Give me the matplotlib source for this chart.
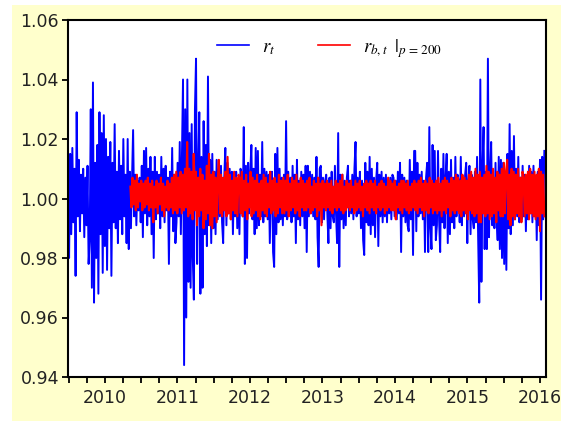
import numpy as np
import matplotlib.pyplot as plt
from matplotlib.patches import Rectangle

# r_t, stored as (value - 1) * 1000
r_t_permil = [
    3, -20, 15, -12, 17, -8, 10, -26, 29, -6, 13, -11, 8, -5, 10, -13, 7, -9, 11, -22,
    -14, 30, -30, 39, -35, 12, -20, 18, -32, 29, -12, 22, -25, 28, -16, 20, -24, 14, -10, 19,
    -26, 12, -8, 25, -10, 9, -15, 16, -7, 11, -12, 20, -6, 8, -15, 20, -17, 9, -10, 7,
    23, -6, 8, -9, 6, -4, 7, -8, 11, -13, 16, -5, 17, -9, 10, -6, 14, -12, 9, -20,
    14, -7, 9, -5, 8, -10, 14, -6, 10, -8, 11, -4, 7, -22, 9, -6, 17, -11, 8, -15,
    -8, 12, -6, 19, -12, 15, 40, -56, 30, -40, 40, -28, 22, -30, 25, -20, -34, 30, 47, -22,
    10, 29, -32, 14, -30, 26, -12, 18, -16, 41, -9, 13, -15, 15, -10, 9, -12, 13, -7, 10,
    -6, 11, -8, -15, 7, 17, -9, 12, -5, 10, -7, 9, -12, 8, -6, 9, -10, 6, -12, 10,
    8, -6, 24, -22, 11, -20, 12, -5, 9, 18, -7, 10, -12, 17, -10, 16, -9, 8, -6, 19,
    -8, 10, -6, 9, -7, 8, -15, 6, 9, -18, -23, 15, -12, 17, -8, 10, -7, 7, -9, 8,
    -6, 26, -7, 9, -5, 7, -8, 11, -6, 8, -15, 13, -7, 6, -9, 9, -6, 8, -10, 11,
    -18, 11, -6, 9, -5, 8, -6, 7, -7, 14, -13, -23, 10, 11, -8, 7, -7, 6, 8, -5,
    -15, 7, -10, 9, -6, -8, 11, -5, -15, 22, -23, 8, -7, 8, -10, 6, -9, 7, 11, -6,
    6, -5, 8, -7, 10, 19, -6, 7, -5, 9, -10, 6, -14, -19, 12, -8, 9, -9, 14, -12,
    10, -9, 7, -13, 6, 12, -16, 8, -6, 9, -8, 7, -6, 8, -8, 6, -5, 7, -7, 8,
    7, -6, 6, -7, 9, -5, 12, -18, 8, -6, 7, -8, 6, -9, -11, 13, -7, 9, -19, 16,
    16, -11, 12, -6, 8, -5, 9, -7, 6, -18, 7, 12, -18, 24, -10, -17, 18, -9, 16, -14,
    -9, 16, -7, -18, 10, -8, 15, -10, 7, 15, -15, 9, -12, 13, -8, 7, -10, 14, -6, 8,
    6, -8, 14, -9, 7, -6, 8, 12, -15, 6, 11, -12, 8, -7, -10, 9, -8, 14, -13, -35,
    40, -28, 10, 24, -17, 9, -17, 47, -13, 8, 19, -9, 7, -10, 12, -6, -14, 14, -17, 13,
    -20, 12, -22, 8, -24, 15, -10, 25, -12, 16, -9, 21, -7, 10, -6, 14, -8, 7, -7, 11,
    -6, 8, -11, 7, -7, 11, -5, 9, -8, 11, -6, 7, -14, 9, -9, 13, -34, 14, -7, 16,
]

# r_{b,t} with p = 200, same units
r_bt_permil = [
    4, -3, 7, -2, 6, -4, 8, -3, 5, -1, 6, -4, 5, -3, 6, -2, 7, -4, 5, -3,
    6, -8, 4, -3, 6, -5, 5, -2, 7, -4, 5, -6, 4, -3, 6, -4, 5, -3, 7, -5,
    8, -4, 9, -5, 7, -3, 9, -5, 8, -4, 10, -3, 19, -6, 10, -5, 9, -7, 15, -4,
    9, -9, 7, -6, 10, -4, 8, -10, 6, -7, 11, -5, 15, -9, 8, -10, 9, -6, 7, -8,
    6, 13, -5, 8, -6, 7, -4, 9, -6, 14, -5, 8, -7, 6, -4, 9, -5, 7, -6, 8,
    7, -5, 9, -6, 6, -4, 8, -7, 5, -3, 9, -6, 7, -5, 6, -4, 8, -6, 5, -7,
    6, -4, 8, -5, 7, -6, 5, -3, 9, -5, 6, -4, 7, -6, 5, -5, 8, -3, 6, -5,
    7, -5, 6, -4, 8, -6, 5, -4, 7, -3, 6, -5, 8, -4, 5, -6, 7, -3, 6, -4,
    5, -4, 6, -3, 7, -5, 4, -4, 6, -3, 5, -6, 7, -4, 5, -9, 6, -3, 5, -4,
    6, -3, 5, -4, 6, -5, 4, -3, 6, -4, 5, -3, 6, -4, 8, -5, 4, -4, 6, -3,
    5, -4, 6, -3, 4, -5, 6, -4, 5, -3, 6, -4, 4, -6, 5, -3, 6, -4, 5, -5,
    6, -3, 5, -4, 6, -5, 4, -3, 5, -4, 6, -3, 5, -5, 4, -4, 7, -3, 6, -4,
    5, -4, 6, -7, 4, -3, 5, -4, 6, -5, 6, -3, 5, -4, 6, -5, 4, -4, 5, -3,
    6, -4, 5, -5, 6, -3, 7, -4, 5, -6, 6, -4, 5, -5, 7, -3, 6, -5, 5, -4,
    6, -5, 7, -4, 5, -6, 6, -4, 7, -5, 6, -3, 5, -6, 7, -4, 6, -5, 8, -4,
    7, -5, 6, -6, 8, -4, 7, -5, 6, -7, 8, -4, 9, -5, 7, -6, 10, -5, 8, -8,
    9, -8, 7, -5, 8, -6, 11, -5, 9, -7, 8, -6, 10, -5, 7, -8, 9, -4, 8, -6,
    10, -6, 12, -5, 9, 13, -7, 8, -9, 10, -6, 9, -7, 8, -5, 10, -6, 7, -8, 9,
    7, -6, 8, -5, 9, -7, 10, -5, 8, -6, 9, -7, 8, -6, 10, -11, 9, -5, 8, -6,
]

# sample span in decimal years
r_t_start, r_t_end = 2009.49, 2016.06
r_bt_start, r_bt_end = 2010.35, 2016.06

year_labels = [2010, 2011, 2012, 2013, 2014, 2015, 2016]
y_ticks = [0.94, 0.96, 0.98, 1.00, 1.02, 1.04, 1.06]

r_t = 1 + np.array(r_t_permil) / 1000
r_bt = 1 + np.array(r_bt_permil) / 1000
t_r = np.linspace(r_t_start, r_t_end, len(r_t))
t_b = np.linspace(r_bt_start, r_bt_end, len(r_bt))

plt.rcParams['font.family'] = ['DejaVu Sans']
plt.rcParams['mathtext.fontset'] = 'stix'

fig = plt.figure(figsize=(5.61, 4.21), dpi=100, facecolor='white')
fig.patches.append(Rectangle((12 / 561, 0), 549 / 561, 416 / 421,
                             transform=fig.transFigure, facecolor='#FFFFCC',
                             edgecolor='none', zorder=-10))
ax = fig.add_axes([68 / 561, 1 - 377 / 421, 478 / 561, 357 / 421])
ax.set_facecolor('white')

ax.plot(t_r, r_t, color='#0000FF', lw=1.4, label=r'$r_t$')
ax.plot(t_b, r_bt, color='#FF0000', lw=1.5, label=r'$r_{b,t}\;\;|_{p\,=\,200}$')

ax.set_xlim(2009.49, 2016.083)
ax.set_ylim(0.94, 1.06)
ax.set_yticks(y_ticks)
ax.set_yticklabels(['%.2f' % v for v in y_ticks])
ax.set_xticks(year_labels)
ax.set_xticklabels([str(y) for y in year_labels])
ax.set_xticks(np.arange(2009.5, 2016.1, 0.25), minor=True)

ax.tick_params(axis='both', which='both', direction='out', length=4.5, width=1.3,
               labelsize=12.5, color='black', labelcolor='#222222')
ax.tick_params(axis='x', which='both', pad=4)
ax.tick_params(axis='y', pad=2)
for s in ax.spines.values():
    s.set_linewidth(1.5)
    s.set_color('black')

leg = ax.legend(loc='center left', bbox_to_anchor=(0.312, 0.921), ncol=2,
                frameon=False, fontsize=13.5, handlelength=1.7, handletextpad=0.7,
                columnspacing=2.3, borderpad=0, borderaxespad=0)
for h in leg.get_lines():
    h.set_linewidth(1.2)

fig.savefig('out.png', dpi=100, facecolor=fig.get_facecolor())
